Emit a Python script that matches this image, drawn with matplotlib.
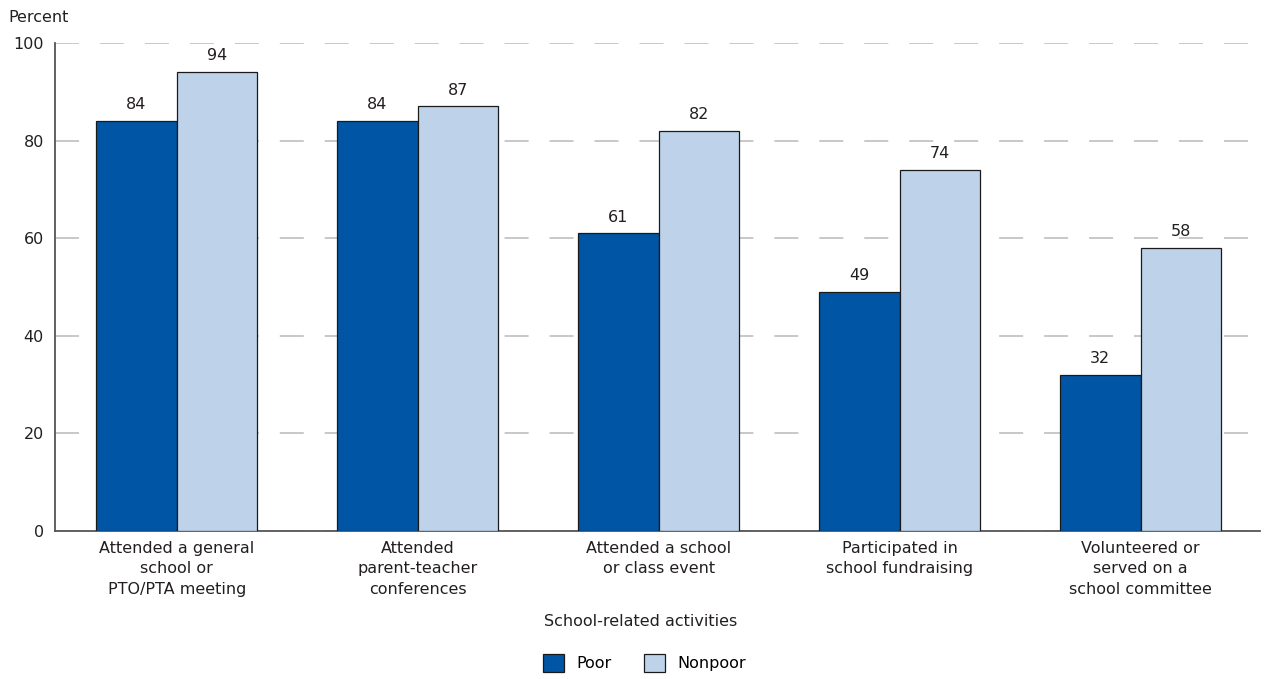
import numpy as np
import matplotlib.pyplot as plt
from matplotlib.patches import Patch

categories = ['Attended a general\nschool or\nPTO/PTA meeting',
              'Attended\nparent-teacher\nconferences',
              'Attended a school\nor class event',
              'Participated in\nschool fundraising',
              'Volunteered or\nserved on a\nschool committee']
poor = [84, 84, 61, 49, 32]
nonpoor = [94, 87, 82, 74, 58]
series_names = ['Poor', 'Nonpoor']

c_poor = '#0055a5'
c_nonpoor = '#bed3e9'
txt = '#231f20'

plt.rcParams['font.family'] = ['DejaVu Sans']
fig = plt.figure(figsize=(12.69, 6.79), dpi=100)
ax = fig.add_axes([55/1269, 1-531/679, 1205/1269, 488/679])

x = np.arange(len(categories))
w = 0.335
b1 = ax.bar(x - w/2, poor, w, color=c_poor, edgecolor='#1a1a1a', lw=0.9, zorder=3)
b2 = ax.bar(x + w/2, nonpoor, w, color=c_nonpoor, edgecolor='#1a1a1a', lw=0.9, zorder=3)
for bars, vals in ((b1, poor), (b2, nonpoor)):
    for r, v in zip(bars, vals):
        ax.text(r.get_x() + r.get_width()/2, v + 1.8, f'{v}', ha='center', va='bottom',
                fontsize=11.5, color=txt)

ax.set_xlim(-0.505, 4.495)
ax.set_ylim(0, 100)
ax.set_yticks(range(0, 101, 20))
ax.yaxis.grid(True, color='#c4c4c4', lw=1.3, dashes=(13.3, 11.6), zorder=0)
ax.set_axisbelow(True)
for s in ('top', 'right'):
    ax.spines[s].set_visible(False)
for s in ('left', 'bottom'):
    ax.spines[s].set_color('#555555')
    ax.spines[s].set_linewidth(1.3)
ax.tick_params(length=0, labelsize=11.5, colors=txt, pad=8)
ax.set_xticks(x)
ax.set_xticklabels(categories, linespacing=1.45)
ax.tick_params(axis='x', pad=7)

fig.text(8/1269, 1-17/679, 'Percent', fontsize=11.5, color=txt, va='center')
fig.text(0.505, 1-621/679, 'School-related activities', fontsize=11.5, color=txt,
         ha='center', va='center')

handles = [Patch(facecolor=c_poor, edgecolor='#1a1a1a', lw=0.9),
           Patch(facecolor=c_nonpoor, edgecolor='#1a1a1a', lw=0.9)]
fig.legend(handles, series_names, loc='center', bbox_to_anchor=(0.508, 1-663/679), ncol=2,
           frameon=False, fontsize=11.5, handlelength=1.3, handleheight=1.3,
           columnspacing=2.0, handletextpad=0.8)

fig.savefig('out.png', dpi=100)
